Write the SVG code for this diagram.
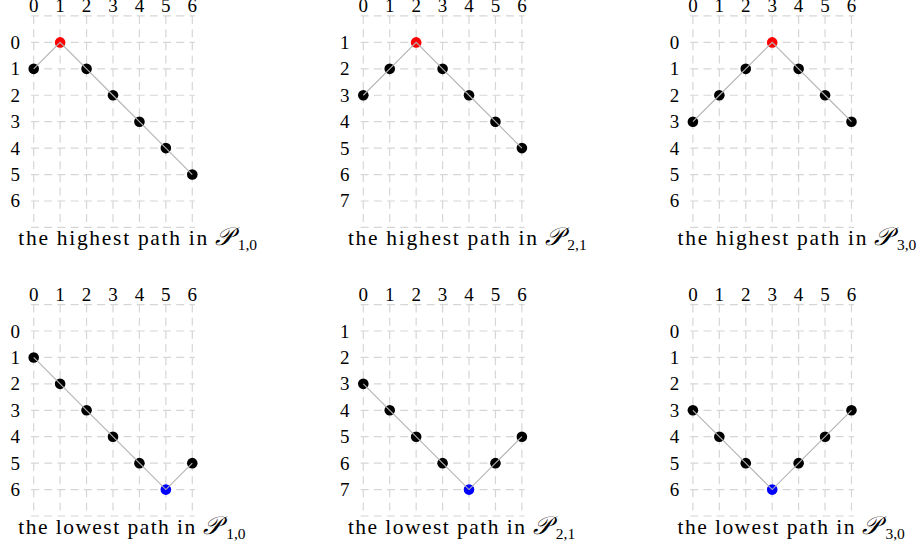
<svg xmlns="http://www.w3.org/2000/svg" xmlns:xlink="http://www.w3.org/1999/xlink" width="922" height="548" viewBox="0 0 922 548">
<style>
.g line{stroke:#d6d6d6;stroke-width:1.2;stroke-dasharray:8 5.2;fill:none}
.t{font-family:"Liberation Serif","DejaVu Serif",serif;font-size:19px;fill:#000}
.c{text-anchor:middle}
.cap{font-family:"Liberation Serif","DejaVu Serif",serif;font-size:21.5px;fill:#000}
.P{font-family:"DejaVu Serif",serif;font-size:25px;font-style:italic;fill:#000}
.sub{font-family:"Liberation Serif","DejaVu Serif",serif;font-size:15.5px;fill:#000}
.e{fill:none;stroke:#b3b3b3;stroke-width:1.1}
.k{fill:#000}.r{fill:#ff0000}.b{fill:#0000ff}
</style>
<defs>
<g id="grid" class="g">
<line x1="0" y1="-26.43" x2="0" y2="185.01"/>
<line x1="26.43" y1="-26.43" x2="26.43" y2="185.01"/>
<line x1="52.86" y1="-26.43" x2="52.86" y2="185.01"/>
<line x1="79.29" y1="-26.43" x2="79.29" y2="185.01"/>
<line x1="105.72" y1="-26.43" x2="105.72" y2="185.01"/>
<line x1="132.15" y1="-26.43" x2="132.15" y2="185.01"/>
<line x1="158.58" y1="-26.43" x2="158.58" y2="185.01"/>
<line x1="-2.64" y1="-26.43" x2="161.22" y2="-26.43"/>
<line x1="-2.64" y1="0" x2="161.22" y2="0"/>
<line x1="-2.64" y1="26.43" x2="161.22" y2="26.43"/>
<line x1="-2.64" y1="52.86" x2="161.22" y2="52.86"/>
<line x1="-2.64" y1="79.29" x2="161.22" y2="79.29"/>
<line x1="-2.64" y1="105.72" x2="161.22" y2="105.72"/>
<line x1="-2.64" y1="132.15" x2="161.22" y2="132.15"/>
<line x1="-2.64" y1="158.58" x2="161.22" y2="158.58"/>
<line x1="-2.64" y1="185.01" x2="161.22" y2="185.01"/>
</g>
<g id="cols" class="t c">
<text x="0" y="-30.5">0</text><text x="26.43" y="-30.5">1</text><text x="52.86" y="-30.5">2</text><text x="79.29" y="-30.5">3</text><text x="105.72" y="-30.5">4</text><text x="132.15" y="-30.5">5</text><text x="158.58" y="-30.5">6</text>
</g>
<g id="rows0" class="t c">
<text x="-18.5" y="6.5">0</text><text x="-18.5" y="32.93">1</text><text x="-18.5" y="59.36">2</text><text x="-18.5" y="85.79">3</text><text x="-18.5" y="112.22">4</text><text x="-18.5" y="138.65">5</text><text x="-18.5" y="165.08">6</text>
</g>
<g id="rows1" class="t c">
<text x="-18.5" y="6.5">1</text><text x="-18.5" y="32.93">2</text><text x="-18.5" y="59.36">3</text><text x="-18.5" y="85.79">4</text><text x="-18.5" y="112.22">5</text><text x="-18.5" y="138.65">6</text><text x="-18.5" y="165.08">7</text>
</g>
</defs>

<!-- Panel 1: highest path in P_{1,0} -->
<g id="panel-h10" transform="translate(33.7,42.4)">
<use xlink:href="#grid"/><use xlink:href="#cols"/><use xlink:href="#rows0"/>
<g id="h10-nodes">
<g id="h10-n0"><circle class="k" cx="0" cy="26.43" r="5.3"/></g>
<g id="h10-n1"><circle class="r" cx="26.43" cy="0" r="5.3"/></g>
<g id="h10-n2"><circle class="k" cx="52.86" cy="26.43" r="5.3"/></g>
<g id="h10-n3"><circle class="k" cx="79.29" cy="52.86" r="5.3"/></g>
<g id="h10-n4"><circle class="k" cx="105.72" cy="79.29" r="5.3"/></g>
<g id="h10-n5"><circle class="k" cx="132.15" cy="105.72" r="5.3"/></g>
<g id="h10-n6"><circle class="k" cx="158.58" cy="132.15" r="5.3"/></g>
</g>
<g id="h10-edges"><polyline class="e" points="0,26.43 26.43,0 52.86,26.43 79.29,52.86 105.72,79.29 132.15,105.72 158.58,132.15"/></g>
<text class="cap" x="-15.4" y="202.7" textLength="189" lengthAdjust="spacing">the highest path in</text>
<text class="P" x="181.5" y="202.7">𝒫</text>
<text class="sub" x="204" y="207.5">1,0</text>
</g>

<!-- Panel 2: highest path in P_{2,1} -->
<g id="panel-h21" transform="translate(363.3,42.4)">
<use xlink:href="#grid"/><use xlink:href="#cols"/><use xlink:href="#rows1"/>
<g id="h21-nodes">
<g id="h21-n0"><circle class="k" cx="0" cy="52.86" r="5.3"/></g>
<g id="h21-n1"><circle class="k" cx="26.43" cy="26.43" r="5.3"/></g>
<g id="h21-n2"><circle class="r" cx="52.86" cy="0" r="5.3"/></g>
<g id="h21-n3"><circle class="k" cx="79.29" cy="26.43" r="5.3"/></g>
<g id="h21-n4"><circle class="k" cx="105.72" cy="52.86" r="5.3"/></g>
<g id="h21-n5"><circle class="k" cx="132.15" cy="79.29" r="5.3"/></g>
<g id="h21-n6"><circle class="k" cx="158.58" cy="105.72" r="5.3"/></g>
</g>
<g id="h21-edges"><polyline class="e" points="0,52.86 26.43,26.43 52.86,0 79.29,26.43 105.72,52.86 132.15,79.29 158.58,105.72"/></g>
<text class="cap" x="-15.4" y="202.7" textLength="189" lengthAdjust="spacing">the highest path in</text>
<text class="P" x="181.5" y="202.7">𝒫</text>
<text class="sub" x="204" y="207.5">2,1</text>
</g>

<!-- Panel 3: highest path in P_{3,0} -->
<g id="panel-h30" transform="translate(692.9,42.4)">
<use xlink:href="#grid"/><use xlink:href="#cols"/><use xlink:href="#rows0"/>
<g id="h30-nodes">
<g id="h30-n0"><circle class="k" cx="0" cy="79.29" r="5.3"/></g>
<g id="h30-n1"><circle class="k" cx="26.43" cy="52.86" r="5.3"/></g>
<g id="h30-n2"><circle class="k" cx="52.86" cy="26.43" r="5.3"/></g>
<g id="h30-n3"><circle class="r" cx="79.29" cy="0" r="5.3"/></g>
<g id="h30-n4"><circle class="k" cx="105.72" cy="26.43" r="5.3"/></g>
<g id="h30-n5"><circle class="k" cx="132.15" cy="52.86" r="5.3"/></g>
<g id="h30-n6"><circle class="k" cx="158.58" cy="79.29" r="5.3"/></g>
</g>
<g id="h30-edges"><polyline class="e" points="0,79.29 26.43,52.86 52.86,26.43 79.29,0 105.72,26.43 132.15,52.86 158.58,79.29"/></g>
<text class="cap" x="-15.4" y="202.7" textLength="189" lengthAdjust="spacing">the highest path in</text>
<text class="P" x="181.5" y="202.7">𝒫</text>
<text class="sub" x="204" y="207.5">3,0</text>
</g>

<!-- Panel 4: lowest path in P_{1,0} -->
<g id="panel-l10" transform="translate(33.7,331)">
<use xlink:href="#grid"/><use xlink:href="#cols"/><use xlink:href="#rows0"/>
<g id="l10-nodes">
<g id="l10-n0"><circle class="k" cx="0" cy="26.43" r="5.3"/></g>
<g id="l10-n1"><circle class="k" cx="26.43" cy="52.86" r="5.3"/></g>
<g id="l10-n2"><circle class="k" cx="52.86" cy="79.29" r="5.3"/></g>
<g id="l10-n3"><circle class="k" cx="79.29" cy="105.72" r="5.3"/></g>
<g id="l10-n4"><circle class="k" cx="105.72" cy="132.15" r="5.3"/></g>
<g id="l10-n5"><circle class="b" cx="132.15" cy="158.58" r="5.3"/></g>
<g id="l10-n6"><circle class="k" cx="158.58" cy="132.15" r="5.3"/></g>
</g>
<g id="l10-edges"><polyline class="e" points="0,26.43 26.43,52.86 52.86,79.29 79.29,105.72 105.72,132.15 132.15,158.58 158.58,132.15"/></g>
<text class="cap" x="-15.4" y="202.7" textLength="177" lengthAdjust="spacing">the lowest path in</text>
<text class="P" x="169.5" y="202.7">𝒫</text>
<text class="sub" x="192.5" y="207.5">1,0</text>
</g>

<!-- Panel 5: lowest path in P_{2,1} -->
<g id="panel-l21" transform="translate(363.3,331)">
<use xlink:href="#grid"/><use xlink:href="#cols"/><use xlink:href="#rows1"/>
<g id="l21-nodes">
<g id="l21-n0"><circle class="k" cx="0" cy="52.86" r="5.3"/></g>
<g id="l21-n1"><circle class="k" cx="26.43" cy="79.29" r="5.3"/></g>
<g id="l21-n2"><circle class="k" cx="52.86" cy="105.72" r="5.3"/></g>
<g id="l21-n3"><circle class="k" cx="79.29" cy="132.15" r="5.3"/></g>
<g id="l21-n4"><circle class="b" cx="105.72" cy="158.58" r="5.3"/></g>
<g id="l21-n5"><circle class="k" cx="132.15" cy="132.15" r="5.3"/></g>
<g id="l21-n6"><circle class="k" cx="158.58" cy="105.72" r="5.3"/></g>
</g>
<g id="l21-edges"><polyline class="e" points="0,52.86 26.43,79.29 52.86,105.72 79.29,132.15 105.72,158.58 132.15,132.15 158.58,105.72"/></g>
<text class="cap" x="-15.4" y="202.7" textLength="177" lengthAdjust="spacing">the lowest path in</text>
<text class="P" x="169.5" y="202.7">𝒫</text>
<text class="sub" x="192.5" y="207.5">2,1</text>
</g>

<!-- Panel 6: lowest path in P_{3,0} -->
<g id="panel-l30" transform="translate(692.9,331)">
<use xlink:href="#grid"/><use xlink:href="#cols"/><use xlink:href="#rows0"/>
<g id="l30-nodes">
<g id="l30-n0"><circle class="k" cx="0" cy="79.29" r="5.3"/></g>
<g id="l30-n1"><circle class="k" cx="26.43" cy="105.72" r="5.3"/></g>
<g id="l30-n2"><circle class="k" cx="52.86" cy="132.15" r="5.3"/></g>
<g id="l30-n3"><circle class="b" cx="79.29" cy="158.58" r="5.3"/></g>
<g id="l30-n4"><circle class="k" cx="105.72" cy="132.15" r="5.3"/></g>
<g id="l30-n5"><circle class="k" cx="132.15" cy="105.72" r="5.3"/></g>
<g id="l30-n6"><circle class="k" cx="158.58" cy="79.29" r="5.3"/></g>
</g>
<g id="l30-edges"><polyline class="e" points="0,79.29 26.43,105.72 52.86,132.15 79.29,158.58 105.72,132.15 132.15,105.72 158.58,79.29"/></g>
<text class="cap" x="-15.4" y="202.7" textLength="177" lengthAdjust="spacing">the lowest path in</text>
<text class="P" x="169.5" y="202.7">𝒫</text>
<text class="sub" x="192.5" y="207.5">3,0</text>
</g>
</svg>
